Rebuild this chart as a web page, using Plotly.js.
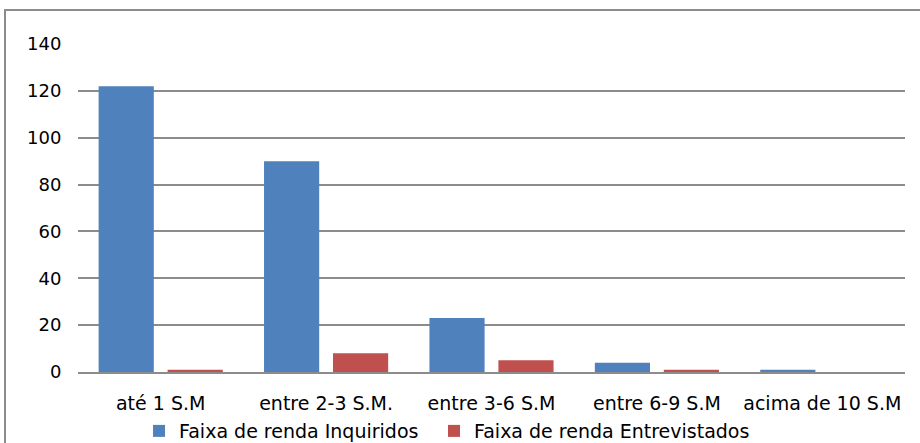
<!DOCTYPE html>
<html><head><meta charset="utf-8">
<script src="https://cdn.plot.ly/plotly-3.0.1.min.js"></script>
<style>
html,body{margin:0;padding:0;background:#fff;overflow:hidden}
#frame{position:absolute;left:4px;top:9px;width:1000px;height:600px;border-left:2px solid #8c8c8c;border-top:2px solid #8c8c8c}
#chart{position:absolute;left:0;top:0;width:920px;height:443px}
</style></head>
<body>
<div id="frame"></div>
<div id="chart"></div>
<script>
const categories = ["até 1 S.M", "entre 2-3 S.M.", "entre 3-6 S.M", "entre 6-9 S.M", "acima de 10 S.M"];
const inquiridos = [122, 90, 23, 4, 1];
const entrevistados = [1, 8, 5, 1, 0];
const seriesNames = ["Faixa de renda Inquiridos", "Faixa de renda Entrevistados"];
const yTicks = [0, 20, 40, 60, 80, 100, 120, 140];

const data = [
  {type: 'bar', x: categories, y: inquiridos, name: seriesNames[0], marker: {color: '#4F81BD'}, legend: 'legend'},
  {type: 'bar', x: categories, y: entrevistados, name: seriesNames[1], marker: {color: '#C0504D'}, legend: 'legend2'}
];
const legendBase = {orientation: 'h', xanchor: 'left', y: -0.18, yanchor: 'middle', font: {size: 19}, itemwidth: 30};
const layout = {
  width: 920, height: 443,
  margin: {l: 78, r: 15, t: 44, b: 71, autoexpand: false},
  paper_bgcolor: 'rgba(0,0,0,0)', plot_bgcolor: 'rgba(0,0,0,0)',
  font: {family: '"DejaVu Sans", sans-serif', size: 18, color: '#000'},
  barmode: 'group', bargap: 0.166, bargroupgap: 0.2,
  xaxis: {showgrid: false, showline: true, linecolor: '#8c8c8c', linewidth: 2, ticks: '', tickfont: {size: 19}, ticklabelstandoff: 13},
  yaxis: {range: [0, 140], tickvals: yTicks, showgrid: true, gridcolor: '#8c8c8c', gridwidth: 2,
          zeroline: false, showline: false, ticks: 'outside', ticklen: 0, tickfont: {size: 18}, ticklabelstandoff: 12},
  showlegend: true,
  legend: Object.assign({}, legendBase, {x: 0.0738}),
  legend2: Object.assign({}, legendBase, {x: 0.4305})
};
Plotly.newPlot('chart', data, layout, {displayModeBar: false, staticPlot: true});
</script>
</body></html>
